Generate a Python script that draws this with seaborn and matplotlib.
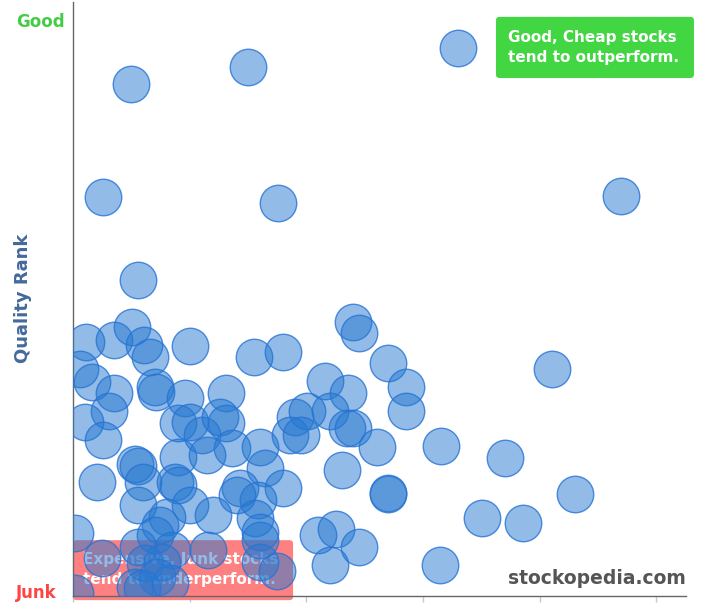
import pandas as pd
import seaborn as sns
import matplotlib.pyplot as plt
from matplotlib.patches import FancyBboxPatch

# --- DATOS ---
value_rank = [
    66.0, 30.0, 9.9, 5.1, 35.2, 94.0, 11.1,
    10.1, 2.2, 7.0, 12.2, 13.2, 20.1, 31.0, 36.0, 48.0, 49.1, 54.0, 82.2,
    1.2, 3.3, 7.0, 14.1, 14.2, 19.2, 26.2, 43.2, 47.2, 57.1,
    6.2, 2.1, 5.1, 18.0, 20.1, 22.1, 25.2, 26.2, 27.3, 32.1, 38.1, 40.1,
    44.1, 37.2, 39.1, 47.0, 48.0, 52.1, 57.1, 63.1, 74.1,
    4.1, 10.6, 11.1, 12.0, 18.0, 17.5, 18.0, 23.0, 32.9, 36.0, 28.6, 28.1,
    31.7, 46.1, 54.0, 54.0, 86.1,
    11.1, 20.1, 16.1, 24.0, 31.2, 32.1, 0.3, 14.9, 14.1, 42.0, 45.1, 49.1,
    70.2, 77.2,
    11.1, 17.0, 23.2, 32.1, 32.1, 35.0, 5.0, 12.3, 15.3, 14.4, 10.6, 11.8,
    0.3, 44.1, 62.9, 16.6,
]
quality_rank = [
    92.3, 89.1, 86.2, 67.2, 66.2, 67.3, 53.2,
    45.3, 42.8, 43.1, 42.3, 40.2, 42.1, 40.2, 41.1, 46.1, 44.3, 39.2, 38.2,
    38.2, 36.0, 34.2, 35.2, 34.3, 33.3, 34.2, 36.2, 34.2, 35.2,
    31.1, 29.3, 26.3, 29.1, 29.3, 27.1, 30.1, 29.1, 24.9, 25.1, 30.1, 31.1,
    31.1, 27.1, 27.1, 28.3, 28.3, 25.1, 31.1, 25.3, 23.2,
    19.2, 22.2, 21.9, 19.2, 23.4, 19.2, 18.7, 23.7, 21.5, 18.2, 18.2, 17.0,
    16.2, 21.2, 17.3, 17.2, 17.2,
    15.3, 15.3, 13.3, 13.6, 13.1, 10.8, 10.6, 12.0, 10.3, 10.3, 11.3, 8.2,
    13.1, 12.3,
    8.2, 7.7, 7.7, 9.4, 5.7, 4.2, 6.4, 5.6, 5.7, 3.2, 1.5, 1.3,
    0.5, 5.2, 5.2, 2.2,
]
x_ticks = [0, 20, 40, 60, 80, 100]

df = pd.DataFrame({'value': value_rank, 'quality': quality_rank})

sns.set_style('white')
plt.rcParams['font.family'] = ['DejaVu Sans']

fig = plt.figure(figsize=(7.02, 6.09), dpi=100)
ax = fig.add_axes([73 / 702, 13 / 609, 613 / 702, 594 / 609])

# caja roja (debajo de los círculos)
red_box = FancyBboxPatch((0, -0.007), 0.359, 0.101, transform=ax.transAxes,
                         boxstyle='round,pad=0,rounding_size=0.006',
                         facecolor='#ff8080', edgecolor='none',
                         clip_on=False, zorder=1)
ax.add_patch(red_box)
ax.text(0.016, 0.044, 'Expensive, Junk stocks\ntend to underperform.',
        transform=ax.transAxes, color='white', fontsize=11,
        fontweight='bold', ha='left', va='center', linespacing=1.4,
        zorder=2)

sns.scatterplot(data=df, x='value', y='quality', ax=ax, s=690,
                color='#2779d1', linewidth=1, zorder=3, legend=False)
pts = ax.collections[-1]
pts.set_facecolor((0.153, 0.475, 0.82, 0.5))
pts.set_edgecolor((0.15, 0.45, 0.84, 0.8))

# caja verde
green_box = FancyBboxPatch((0.690, 0.872), 0.323, 0.103, transform=ax.transAxes,
                           boxstyle='round,pad=0,rounding_size=0.006',
                           facecolor='#43d643', edgecolor='none',
                           clip_on=False, zorder=4)
ax.add_patch(green_box)
ax.text(0.709, 0.923, 'Good, Cheap stocks\ntend to outperform.',
        transform=ax.transAxes, color='white', fontsize=11,
        fontweight='bold', ha='left', va='center', linespacing=1.4,
        zorder=5)

ax.text(1.0, 0.030, 'stockopedia.com', transform=ax.transAxes,
        color='#555555', fontsize=13.5, fontweight='bold', ha='right',
        va='center', zorder=6)

ax.set_xlim(0, 105.1)
ax.set_ylim(0, 100)
ax.set_xticks(x_ticks)
ax.set_xticklabels([])
ax.set_yticks([])
ax.tick_params(axis='x', direction='out', length=4, width=1,
               color='#b8cce0', bottom=True)
ax.set_xlabel('')
ax.set_ylabel('')
for side in ['top', 'right']:
    ax.spines[side].set_visible(False)
for side in ['left', 'bottom']:
    ax.spines[side].set_color('#666666')
    ax.spines[side].set_linewidth(1)

fig.text(40 / 702, 1 - 22 / 609, 'Good', color='#44cc44', fontsize=12,
         fontweight='bold', ha='center', va='center')
fig.text(36 / 702, 1 - 593 / 609, 'Junk', color='#ff4444', fontsize=12,
         fontweight='bold', ha='center', va='center')
fig.text(23 / 702, 1 - 298 / 609, 'Quality Rank', color='#44699c',
         fontsize=13, fontweight='bold', rotation=90, ha='center',
         va='center')

plt.savefig('out.png', dpi=100)
plt.close()
